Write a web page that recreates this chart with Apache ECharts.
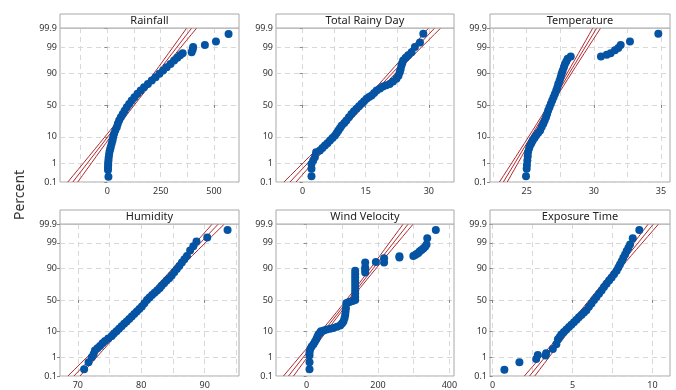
<!DOCTYPE html>
<html><head><meta charset="utf-8">
<script src="https://cdn.jsdelivr.net/npm/echarts@6/dist/echarts.min.js"></script>
<style>html,body{margin:0;padding:0;background:#fff}#c{width:676px;height:390px}</style>
</head><body><div id="c"></div><script>
// ---------- data ----------
const panelTitles = ['Rainfall','Total Rainy Day','Temperature','Humidity','Wind Velocity','Exposure Time'];
const percentTicks = [0.1, 1, 10, 50, 90, 99, 99.9];
const percentTickLabels = ['0.1','1','10','50','90','99','99.9'];

const rainfallX = [5,3,3,4,4,5,6,8,10,13,16,20,24,27,31,37,44,49,55,63,72,81,91,102,114,127,141,156,172,190,208,226,244,261,278,296,313,328,341,353,395,400,402,457,509,568];
const rainfallP = [0.2,0.45,0.6,0.8,1.0,1.3,1.7,2.3,3.0,3.8,4.6,6.0,7.7,9.8,12.3,15.3,18.7,22.5,26.7,31.2,36,41,46.4,51.8,57,62.3,67.3,72,76.2,80,83.7,86.8,89.5,91.7,93.5,95.0,96.3,97.1,97.7,98.1,98.3,98.7,99.0,99.2,99.46,99.78];

const rainyDayX = [2.1,2.1,2.1,2.5,2.9,3.2,4.1,4.7,5.3,5.9,6.5,7.1,7.7,8.1,8.5,8.9,9.3,9.9,10.4,11.0,11.6,12.2,12.8,13.4,14.0,14.6,15.2,15.8,16.4,17.0,17.6,18.4,19.1,19.9,20.7,21.5,22.3,22.8,23.1,23.3,23.5,23.7,23.9,24.5,25.1,25.9,26.7,27.9,28.7];
const rainyDayP = [0.21,0.52,0.9,1.3,1.8,2.9,3.4,4.2,5.2,6.3,7.7,9.2,11,13,15.3,17.8,20.5,23.5,26.7,31,36,40,44,48,52,56,60,62.5,64.8,68.5,72,74.5,77,78.5,80,82.8,85.3,88,90.6,92.5,94.4,95.4,96.3,97.1,97.7,98.3,99.0,99.4,99.79];

const temperatureX = [24.95,25.0,25.02,25.05,25.08,25.1,25.18,25.25,25.35,25.45,25.58,25.7,25.85,26.0,26.12,26.24,26.34,26.44,26.52,26.6,26.7,26.8,26.9,27.0,27.1,27.2,27.28,27.35,27.45,27.53,27.6,27.68,27.77,27.85,27.95,28.05,28.28,30.53,30.96,31.25,31.57,31.82,32.0,32.69,34.8];
const temperatureP = [0.21,0.52,0.8,1.3,2.0,2.9,4.0,5.2,6.3,7.7,9.2,11,13,15.3,18.8,22.6,26.7,31,36,41.3,46.5,52,57,62.3,67,72,76,80,83.5,86.8,89.5,91.6,93.5,95,96,96.8,97.4,97.4,97.8,98.1,98.6,98.9,99.2,99.46,99.79];

const humidityX = [71.0,71.7,72.2,72.5,72.7,73.1,73.5,73.9,74.3,74.8,75.35,75.7,76.1,76.5,76.9,77.3,77.7,78.1,78.5,78.9,79.3,79.7,80.1,80.5,80.9,81.3,81.7,82.1,82.5,82.9,83.2,83.6,84.0,84.4,84.8,85.2,85.6,86.0,86.4,86.8,87.2,87.7,88.2,88.7,90.4,93.6];
const humidityP = [0.24,0.57,1.0,1.4,2.0,2.5,3.1,3.9,4.8,5.9,7.2,8.6,10.2,12.1,14.2,16.6,19.2,22,25,28.5,32,35.6,39.4,44.7,50,54,58,61.5,65,68.5,72,75.3,78.5,81.3,84,87,89.6,91.7,93.6,95.1,96.3,97.8,98.55,99.14,99.45,99.78];

const windX = [8,8,8,8,10,14,19,23,27,30,33,37,40,48,56,66,75,85,94,99,103,106,108,109,110,111,116,122,129,136,136,136,136,136,136,136,136,136,136,164,164,164,164,194,217,217,260,260,299,304,308,313,317,322,327,332,336,338,362];
const windP = [0.24,0.57,1.2,1.7,2.3,2.9,3.6,4.5,5.5,6.7,8,9,10.2,10.8,11.5,12.1,12.7,13.8,15,17,19.2,23,27,31.5,36.7,44.8,46,47,48.5,50,55,60.6,65.3,70,74.5,78.5,82.3,85.5,88.3,86.9,89,90.7,93.6,93.9,93.6,95.5,95.8,96.2,96.3,96.6,96.9,97.2,97.6,97.9,98.2,98.5,98.8,99.4,99.78];

const exposureX = [0.74,1.68,2.73,2.83,3.31,3.35,3.77,3.99,4.09,4.2,4.3,4.46,4.62,4.78,4.93,5.09,5.25,5.4,5.56,5.72,5.87,6.03,6.19,6.35,6.5,6.66,6.82,6.97,7.13,7.29,7.45,7.6,7.76,7.87,7.97,8.08,8.18,8.29,8.39,8.5,8.6,8.77,9.18];
const exposureP = [0.23,0.57,0.82,1.25,1.2,1.5,2.3,3.6,5.5,6.6,8,9.7,11.5,13.6,15.8,18.3,21,24,27,30.5,34,39,44.5,50,55,60,65,70,74.5,78.5,82,85.3,88.3,90.6,92.6,94.3,95.7,96.8,97.7,98.3,98.8,99.4,99.78];

// x axis ranges, labelled ticks and grid values
const xMin = [-222, -6.34, 22.27, 67.2, -86, -0.16];
const xMax = [617, 36.0, 35.67, 95.4, 413, 11.1];
const xLabelTicks = [[0,250,500],[0,15,30],[25,30,35],[70,80,90],[0,200,400],[0,5,10]];
const xGridTicks = [[-125,0,125,250,375,500],[0,7.5,15,22.5,30],[22.5,25,27.5,30,32.5,35],[70,75,80,85,90,95],[0,100,200,300,400],[0,2.5,5,7.5,10]];

// fitted normal parameters (mean, stdev) and sample size
const fitMean = [116.8, 14.2, 26.74, 80.77, 116.9, 6.19];
const fitStdev = [90.2, 5.57, 1.125, 3.68, 54.3, 1.254];
const sampleSize = 330;

// ---------- helpers ----------
function normInv(p){
  const a=[-3.969683028665376e+01,2.209460984245205e+02,-2.759285104469687e+02,1.383577518672690e+02,-3.066479806614716e+01,2.506628277459239e+00];
  const b=[-5.447609879822406e+01,1.615858368580409e+02,-1.556989798598866e+02,6.680131188771972e+01,-1.328068155288572e+01];
  const c=[-7.784894002430293e-03,-3.223964580411365e-01,-2.400758277161838e+00,-2.549732539343734e+00,4.374664141464968e+00,2.938163982698783e+00];
  const d=[7.784695709041462e-03,3.224671290700398e-01,2.445134137142996e+00,3.754408661907416e+00];
  const pl=0.02425, ph=1-pl; let q,r;
  if(p<pl){q=Math.sqrt(-2*Math.log(p));return (((((c[0]*q+c[1])*q+c[2])*q+c[3])*q+c[4])*q+c[5])/((((d[0]*q+d[1])*q+d[2])*q+d[3])*q+1);}
  if(p<=ph){q=p-0.5;r=q*q;return (((((a[0]*r+a[1])*r+a[2])*r+a[3])*r+a[4])*r+a[5])*q/(((((b[0]*r+b[1])*r+b[2])*r+b[3])*r+b[4])*r+1);}
  q=Math.sqrt(-2*Math.log(1-p));return -(((((c[0]*q+c[1])*q+c[2])*q+c[3])*q+c[4])*q+c[5])/((((d[0]*q+d[1])*q+d[2])*q+d[3])*q+1);
}
const zTicks = percentTicks.map(p => normInv(p/100));
const zMin = zTicks[0], zMax = zTicks[zTicks.length-1];

const seriesX = [rainfallX, rainyDayX, temperatureX, humidityX, windX, exposureX];
const seriesP = [rainfallP, rainyDayP, temperatureP, humidityP, windP, exposureP];

// layout (px): left, top, width, height of plotting area
const boxes = [[60,28,179,154],[276,28,178,154],[490,28,180,154],[60,224,179,155],[276,224,178,155],[490,224,180,155]];
const FONT = '"Noto Sans", "Open Sans", sans-serif';
const BORDER = '#a8a8a8';
const RED = '#b3282d';
const BLUE = '#0553a3';

const grids=[], xAxes=[], yAxes=[], series=[], graphics=[];
boxes.forEach((b,i)=>{
  grids.push({left:b[0], top:b[1], width:b[2], height:b[3], show:true, borderColor:BORDER, borderWidth:1, backgroundColor:'#fff'});
  xAxes.push({type:'value', gridIndex:i, min:xMin[i], max:xMax[i],
    axisLine:{show:false},
    axisTick:{show:true, customValues:xLabelTicks[i], length:3, lineStyle:{color:'#888'}},
    axisLabel:{customValues:xLabelTicks[i], fontSize:9, color:'#333', margin:5, fontFamily:FONT},
    splitLine:{show:false}});
  xAxes.push({type:'value', gridIndex:i, min:xMin[i], max:xMax[i],
    axisLine:{show:false}, axisTick:{show:false, customValues:xGridTicks[i]}, axisLabel:{show:false},
    splitLine:{show:true, lineStyle:{color:'#d8d8d8', type:[5,4], width:1}}});
  yAxes.push({type:'value', gridIndex:i, min:zMin, max:zMax,
    axisLine:{show:false},
    axisTick:{show:true, customValues:zTicks, length:3, lineStyle:{color:'#888'}},
    axisLabel:{customValues:zTicks, fontSize:9, color:'#333', margin:3, fontFamily:FONT,
      formatter:(v)=>{const k=zTicks.findIndex(t=>Math.abs(t-v)<1e-6);return k>=0?percentTickLabels[k]:'';}},
    splitLine:{show:true, lineStyle:{color:'#d8d8d8', type:[5,4], width:1}}});

  // fitted line and confidence bands
  const mu=fitMean[i], sd=fitStdev[i];
  const zs=[]; for(let k=0;k<=24;k++) zs.push(zMin+(zMax-zMin)*k/24);
  const lower=zs.map(z=>[mu+sd*z-1.96*sd*Math.sqrt(1/sampleSize+z*z/(2*sampleSize)), z]);
  const upper=zs.map(z=>[mu+sd*z+1.96*sd*Math.sqrt(1/sampleSize+z*z/(2*sampleSize)), z]);
  const center=[[mu+sd*zMin,zMin],[mu+sd*zMax,zMax]];
  [lower, center, upper].forEach(d=>{
    series.push({type:'line', xAxisIndex:2*i, yAxisIndex:i, data:d, showSymbol:false, symbol:'none', smooth:false,
      lineStyle:{color:RED, width:1}, z:3, silent:true, clip:true});
  });
  series.push({type:'scatter', xAxisIndex:2*i, yAxisIndex:i,
    data:seriesX[i].map((x,k)=>[x, normInv(seriesP[i][k]/100)]),
    symbolSize:8, itemStyle:{color:BLUE, opacity:1}, z:5, silent:true, clip:false});

  // title strip
  graphics.push({type:'rect', shape:{x:b[0], y:b[1]-14, width:b[2], height:14}, style:{fill:'#fff', stroke:BORDER, lineWidth:1}, z:10});
  graphics.push({type:'text', x:b[0]+b[2]/2, y:b[1]-7, style:{text:panelTitles[i], fill:'#222', font:'11px '+FONT, textAlign:'center', textVerticalAlign:'middle', align:'center', verticalAlign:'middle'}, z:11});
});
graphics.push({type:'text', x:20, y:195, rotation:Math.PI/2, style:{text:'Percent', fill:'#333', font:'14px '+FONT, textAlign:'center', textVerticalAlign:'middle', align:'center', verticalAlign:'middle'}, z:11});

const chart = echarts.init(document.getElementById('c'), null, {renderer:'canvas'});
chart.setOption({animation:false, backgroundColor:'#fff', grid:grids, xAxis:xAxes, yAxis:yAxes, series:series, graphic:graphics});
</script></body></html>
